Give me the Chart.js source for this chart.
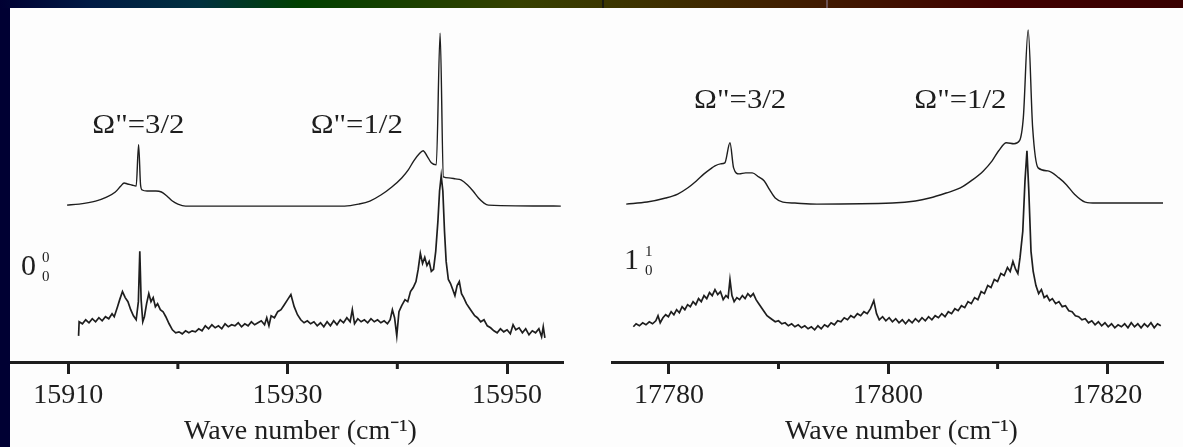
<!DOCTYPE html>
<html>
<head>
<meta charset="utf-8">
<script src="https://cdn.jsdelivr.net/npm/chart.js@4.4.0/dist/chart.umd.min.js"></script>
<style>
  html, body { margin: 0; padding: 0; }
  body { width: 1183px; height: 447px; background: #000033; position: relative; overflow: hidden; }
  #strip { position: absolute; left: 0; top: 0; width: 1183px; height: 8px;
    background: linear-gradient(to right, #000033 0px, #001a44 90px, #00303f 200px, #004000 300px,
      #364000 520px, #3d3200 640px, #402200 760px, #401200 880px, #400000 1000px, #380000 1183px); }
  #paper { position: absolute; left: 10px; top: 8px; right: 0; bottom: 0; background: #fdfdfd; }
  .mark { position: absolute; top: 0; width: 2px; height: 8px; }
  canvas { position: absolute; top: 0; }
</style>
</head>
<body>
<div id="strip"></div>
<div class="mark" style="left:602px;background:#1a1a10"></div>
<div class="mark" style="left:826px;background:#6a5050"></div>
<div id="paper"></div>
<canvas id="left-chart" width="580" height="447" style="left:10px"></canvas>
<canvas id="right-chart" width="593" height="447" style="left:590px"></canvas>
<script>
// ---- left panel (0-0 band) ----
const leftTicks = [15910, 15920, 15930, 15940, 15950]
const leftLabelled = [15910, 15930, 15950]

const leftSimX = [15909.9, 15911.0, 15912.5, 15913.5, 15914.3, 15914.8, 15915.1, 15915.4, 15915.8, 15916.2,
  15916.42, 15916.6, 15916.75, 15917.2, 15918.0, 15918.5, 15919.0, 15919.5, 15920.0, 15920.7,
  15935.2, 15936.5, 15937.5, 15938.5, 15939.5, 15940.4, 15941.0, 15941.5, 15942.0, 15942.35,
  15942.7, 15943.1, 15943.55, 15943.9, 15944.2, 15944.7, 15945.3, 15945.8, 15946.4, 15946.9,
  15947.4, 15947.9, 15948.3, 15954.9]
const leftSimY = [156, 157, 160, 164, 169, 175, 178, 177, 176, 175,
  216, 176, 171, 170, 170, 169, 165, 160, 157, 155,
  155, 157, 160, 166, 174, 183, 191, 200, 207, 210,
  205, 198, 196, 327, 184, 183, 182, 181, 176, 170,
  163, 158, 156, 155]

const leftExpX = [15910.95, 15911.0, 15911.3, 15911.6, 15911.9, 15912.2, 15912.5, 15912.8, 15913.1, 15913.4,
  15913.7, 15914.0, 15914.2, 15914.5, 15914.7, 15914.95, 15915.2, 15915.45, 15915.7, 15915.95,
  15916.2, 15916.4, 15916.53, 15916.65, 15916.8, 15916.95, 15917.15, 15917.35, 15917.55, 15917.75,
  15917.95, 15918.15, 15918.4, 15918.65, 15918.9, 15919.2, 15919.5, 15919.8, 15920.1, 15920.4,
  15920.7, 15921.0, 15921.3, 15921.6, 15921.9, 15922.2, 15922.5, 15922.8, 15923.1, 15923.4,
  15923.7, 15924.0, 15924.3, 15924.6, 15924.9, 15925.2, 15925.5, 15925.8, 15926.1, 15926.4,
  15926.7, 15927.0, 15927.3, 15927.6, 15927.9, 15928.1, 15928.3, 15928.5, 15928.8, 15929.1,
  15929.4, 15929.7, 15930.0, 15930.3, 15930.6, 15930.9, 15931.2, 15931.5, 15931.8, 15932.1,
  15932.4, 15932.7, 15933.0, 15933.3, 15933.6, 15933.9, 15934.2, 15934.5, 15934.8, 15935.1,
  15935.4, 15935.7, 15935.9, 15936.1, 15936.4, 15936.7, 15937.0, 15937.3, 15937.6, 15937.9,
  15938.2, 15938.5, 15938.8, 15939.1, 15939.35, 15939.55, 15939.75, 15939.95, 15940.15, 15940.4,
  15940.7, 15940.95, 15941.2, 15941.45, 15941.7, 15941.9, 15942.1, 15942.3, 15942.5, 15942.7,
  15942.9, 15943.1, 15943.3, 15943.5, 15943.7, 15943.85, 15944.0, 15944.15, 15944.3, 15944.45,
  15944.65, 15944.85, 15945.05, 15945.25, 15945.45, 15945.65, 15945.85, 15946.05, 15946.3, 15946.55,
  15946.8, 15947.05, 15947.3, 15947.6, 15947.9, 15948.2, 15948.5, 15948.8, 15949.1, 15949.4,
  15949.7, 15950.0, 15950.3, 15950.55, 15950.8, 15951.1, 15951.4, 15951.7, 15952.0, 15952.3,
  15952.6, 15952.9, 15953.15, 15953.3, 15953.45]
const leftExpY = [26, 40, 38, 42, 39, 43, 40, 44, 41, 45,
  43, 48, 45, 55, 62, 70, 64, 60, 52, 46,
  42, 60, 110, 62, 40, 45, 58, 68, 60, 64,
  55, 58, 52, 50, 45, 38, 32, 29, 30, 28,
  31, 29, 31, 30, 33, 31, 36, 33, 37, 34,
  36, 33, 38, 35, 37, 36, 39, 35, 38, 36,
  40, 37, 39, 41, 37, 44, 36, 46, 44, 50,
  52, 57, 62, 67, 55, 47, 42, 39, 41, 38,
  40, 36, 39, 35, 40, 36, 41, 37, 42, 39,
  44, 40, 52, 38, 43, 40, 42, 39, 43, 40,
  42, 39, 41, 38, 42, 52, 44, 26, 50, 56,
  62, 60, 70, 74, 80, 92, 108, 98, 104, 96,
  100, 90, 92, 110, 140, 170, 185, 170, 130, 100,
  82, 78, 72, 66, 76, 80, 68, 64, 58, 54,
  50, 46, 44, 40, 42, 36, 34, 31, 29, 33,
  30, 32, 28, 37, 32, 34, 29, 33, 27, 31,
  29, 33, 25, 35, 24]

// ---- right panel (1-1 band) ----
const rightTicks = [17780, 17790, 17800, 17810, 17820]
const rightLabelled = [17780, 17800, 17820]

const rightSimX = [17776.1, 17778.0, 17779.7, 17780.8, 17781.7, 17782.5, 17783.2, 17783.8, 17784.2, 17784.7,
  17785.1, 17785.57, 17785.9, 17786.4, 17787.0, 17787.6, 17788.2, 17788.7, 17789.2, 17789.7,
  17790.4, 17791.5, 17793.5, 17800.4, 17802.5, 17803.8, 17805.3, 17806.6, 17807.7, 17808.7,
  17809.5, 17810.1, 17810.8, 17811.5, 17812.0, 17812.35, 17812.79, 17813.2, 17813.7, 17814.6,
  17815.6, 17816.3, 17817.0, 17818.0, 17819.0, 17825.1]
const rightSimY = [157, 159, 163, 167, 173, 180, 187, 192, 195, 197,
  198, 218, 193, 187, 188, 188, 184, 180, 171, 163,
  159, 158, 157, 158, 160, 163, 168, 173, 181, 190,
  200, 210, 218, 217, 220, 243, 330, 233, 193, 190,
  183, 176, 167, 159, 158, 158]

const rightExpX = [17776.75, 17777.0, 17777.3, 17777.6, 17777.9, 17778.2, 17778.5, 17778.8, 17779.0, 17779.2,
  17779.45, 17779.7, 17779.95, 17780.2, 17780.45, 17780.7, 17780.95, 17781.2, 17781.45, 17781.7,
  17781.95, 17782.2, 17782.45, 17782.7, 17782.95, 17783.2, 17783.45, 17783.7, 17783.95, 17784.2,
  17784.45, 17784.7, 17784.95, 17785.2, 17785.4, 17785.57, 17785.75, 17785.95, 17786.2, 17786.45,
  17786.7, 17786.95, 17787.2, 17787.45, 17787.7, 17787.95, 17788.2, 17788.45, 17788.7, 17788.95,
  17789.2, 17789.45, 17789.7, 17790.0, 17790.3, 17790.6, 17790.9, 17791.2, 17791.5, 17791.8,
  17792.1, 17792.4, 17792.7, 17793.0, 17793.3, 17793.6, 17793.9, 17794.2, 17794.5, 17794.8,
  17795.1, 17795.4, 17795.7, 17796.0, 17796.3, 17796.6, 17796.9, 17797.2, 17797.5, 17797.8,
  17798.1, 17798.4, 17798.7, 17798.95, 17799.2, 17799.5, 17799.8, 17800.1, 17800.4, 17800.7,
  17801.0, 17801.3, 17801.6, 17801.9, 17802.2, 17802.5, 17802.8, 17803.1, 17803.4, 17803.7,
  17804.0, 17804.3, 17804.6, 17804.9, 17805.2, 17805.5, 17805.8, 17806.1, 17806.4, 17806.7,
  17807.0, 17807.3, 17807.6, 17807.9, 17808.2, 17808.5, 17808.8, 17809.1, 17809.4, 17809.7,
  17810.0, 17810.3, 17810.6, 17810.9, 17811.15, 17811.4, 17811.65, 17811.85, 17812.05, 17812.3,
  17812.5, 17812.68, 17812.85, 17813.05, 17813.25, 17813.5, 17813.75, 17814.0, 17814.25, 17814.5,
  17814.75, 17815.0, 17815.3, 17815.6, 17815.9, 17816.2, 17816.5, 17816.8, 17817.1, 17817.4,
  17817.7, 17818.0, 17818.3, 17818.6, 17818.9, 17819.2, 17819.5, 17819.8, 17820.1, 17820.4,
  17820.7, 17821.0, 17821.3, 17821.6, 17821.9, 17822.2, 17822.5, 17822.8, 17823.1, 17823.4,
  17823.7, 17824.0, 17824.3, 17824.6, 17824.9]
const rightExpY = [35, 38, 36, 39, 37, 40, 38, 41, 46, 39,
  44, 47, 45, 50, 47, 52, 49, 55, 52, 57,
  55, 60, 57, 63, 60, 66, 63, 69, 66, 72,
  67, 70, 62, 66, 64, 82, 66, 60, 64, 62,
  66, 63, 68, 65, 68, 62, 58, 54, 50, 46,
  44, 42, 40, 41, 38, 39, 36, 38, 35, 37,
  34, 36, 33, 35, 32, 36, 33, 37, 35, 39,
  37, 41, 40, 44, 42, 46, 44, 48, 46, 50,
  48, 53, 61, 48, 42, 45, 41, 44, 40, 43,
  39, 42, 38, 42, 39, 43, 40, 44, 41, 45,
  42, 46, 44, 48, 45, 50, 48, 53, 51, 56,
  54, 60, 58, 64, 62, 70, 68, 76, 74, 82,
  80, 88, 86, 94, 90, 100, 92, 88, 104, 130,
  180, 210, 170, 110, 90, 76, 68, 72, 64, 66,
  61, 63, 58, 60, 55, 56, 51, 50, 46, 45,
  42, 43, 39, 41, 37, 40, 36, 39, 35, 38,
  34, 37, 35, 38, 34, 39, 35, 38, 34, 38,
  35, 39, 34, 38, 36]

const ink = '#1e1e1e'
const serif = 'Liberation Serif, Times New Roman, serif'

// text placed at data coordinates of each panel
const leftNotes = [
  { text: 'Ω"=3/2', x: 15916.4, y: 235 },
  { text: 'Ω"=1/2', x: 15936.3, y: 235 },
]
const rightNotes = [
  { text: 'Ω"=3/2', x: 17786.5, y: 260 },
  { text: 'Ω"=1/2', x: 17806.6, y: 260 },
]
const leftBand = { main: '0', up: '0', down: '0', x: 15905.7, y: 94 }
const rightBand = { main: '1', up: '1', down: '0', x: 17775.9, y: 100 }

const toPoints = (xs, ys) => xs.map((x, i) => ({ x: x, y: ys[i] }))

const notesPlugin = {
  id: 'notes',
  afterDatasetsDraw(chart, args, opts) {
    const ctx = chart.ctx
    const xs = chart.scales.x
    const ys = chart.scales.y
    ctx.save()
    ctx.fillStyle = ink
    ctx.textBaseline = 'middle'
    ctx.textAlign = 'center'
    ctx.font = '28px ' + serif
    opts.notes.forEach(n => {
      // the printed figure is a little stretched sideways
      ctx.save()
      ctx.translate(xs.getPixelForValue(n.x), ys.getPixelForValue(n.y))
      ctx.scale(1.1, 1)
      ctx.fillText(n.text, 0, 0)
      ctx.restore()
    })
    const b = opts.band
    const bx = xs.getPixelForValue(b.x)
    const by = ys.getPixelForValue(b.y)
    ctx.textAlign = 'left'
    ctx.font = '30px ' + serif
    ctx.fillText(b.main, bx, by)
    const w = ctx.measureText(b.main).width
    ctx.font = '15px ' + serif
    ctx.fillText(b.up, bx + w + 6, by - 9)
    ctx.fillText(b.down, bx + w + 6, by + 10)
    // minor ticks, shorter than the labelled ones
    ctx.strokeStyle = ink
    ctx.lineWidth = 3
    opts.minor.forEach(v => {
      const px = xs.getPixelForValue(v)
      ctx.beginPath()
      ctx.moveTo(px, chart.chartArea.bottom)
      ctx.lineTo(px, chart.chartArea.bottom + 7)
      ctx.stroke()
    })
    ctx.restore()
  }
}

function makePanel(id, cfg) {
  return new Chart(document.getElementById(id), {
    type: 'line',
    data: {
      datasets: [
        {
          label: 'simulated',
          data: toPoints(cfg.simX, cfg.simY),
          borderColor: ink,
          borderWidth: 1.4,
          pointRadius: 0,
          cubicInterpolationMode: 'monotone',
        },
        {
          label: 'observed',
          data: toPoints(cfg.expX, cfg.expY),
          borderColor: ink,
          borderWidth: 1.7,
          pointRadius: 0,
          tension: 0,
        },
      ],
    },
    options: {
      responsive: false,
      animation: false,
      layout: { padding: cfg.padding },
      plugins: {
        legend: { display: false },
        tooltip: { enabled: false },
        notes: { notes: cfg.notes, band: cfg.band, minor: cfg.ticks.filter(t => !cfg.labelled.includes(t)) },
      },
      scales: {
        x: {
          type: 'linear',
          min: cfg.min,
          max: cfg.max,
          afterBuildTicks: s => { s.ticks = cfg.ticks.map(v => ({ value: v })) },
          border: { display: true, color: ink, width: 3 },
          grid: {
            display: true,
            drawOnChartArea: false,
            drawTicks: true,
            tickLength: 12,
            tickWidth: 3,
            tickColor: c => (c.tick && cfg.labelled.includes(c.tick.value)) ? ink : 'rgba(0,0,0,0)',
          },
          ticks: {
            color: ink,
            padding: 8,
            maxRotation: 0,
            autoSkip: false,
            font: { family: serif, size: 28, lineHeight: 1 },
            callback: v => cfg.labelled.includes(v) ? String(v) : '',
          },
          title: {
            display: true,
            text: '\u2003Wave number (cm⁻¹)',
            color: ink,
            padding: { top: 0, bottom: 0 },
            font: { family: serif, size: 28, lineHeight: 1 },
          },
        },
        y: { display: false, min: 0, max: 340 },
      },
    },
    plugins: [notesPlugin],
  })
}

const leftChart = makePanel('left-chart', {
  simX: leftSimX, simY: leftSimY, expX: leftExpX, expY: leftExpY,
  ticks: leftTicks, labelled: leftLabelled, min: 15904.7, max: 15955.1,
  notes: leftNotes, band: leftBand,
  padding: { top: 20, left: 0, right: 27, bottom: 1 },
})

const rightChart = makePanel('right-chart', {
  simX: rightSimX, simY: rightSimY, expX: rightExpX, expY: rightExpY,
  ticks: rightTicks, labelled: rightLabelled, min: 17774.8, max: 17825.1,
  notes: rightNotes, band: rightBand,
  padding: { top: 20, left: 22, right: 20, bottom: 1 },
})
</script>
</body>
</html>
